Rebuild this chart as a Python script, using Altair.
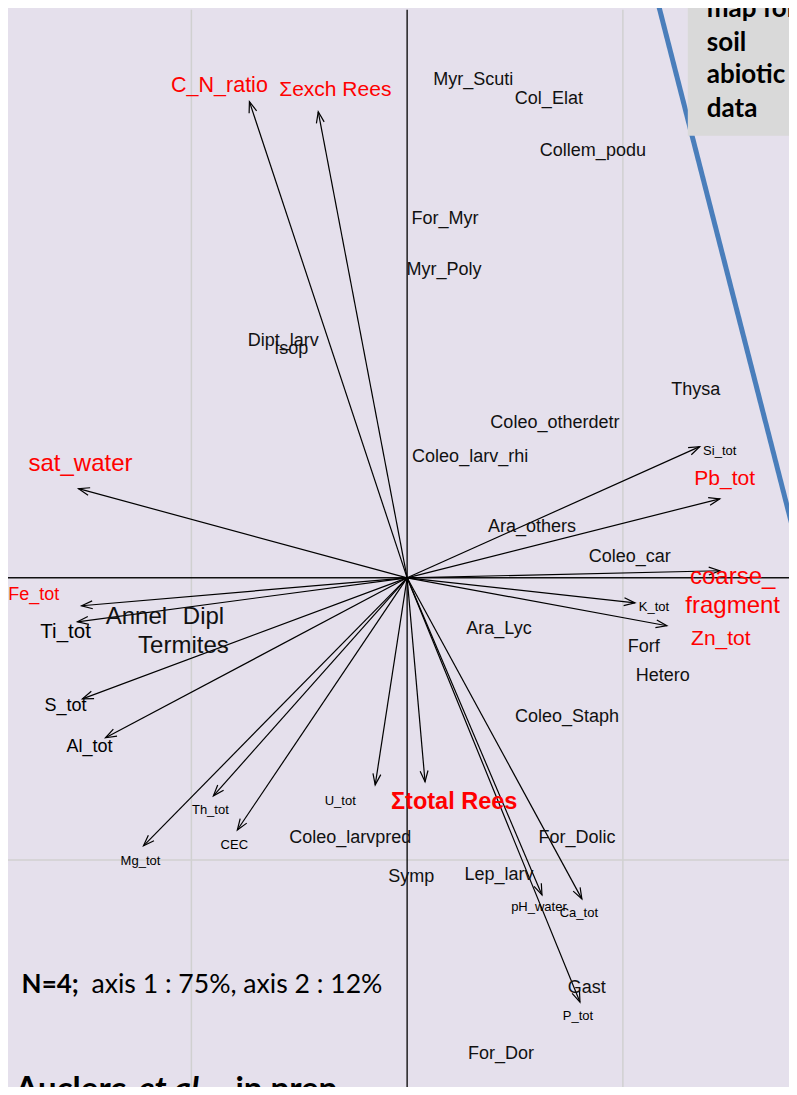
import math
import altair as alt
import pandas as pd

# ---------------- data (PCA coordinates) ----------------
var_names = ["C_N_ratio", "Σexch Rees", "sat_water", "Fe_tot", "Ti_tot", "S_tot", "Al_tot",
             "Mg_tot", "Th_tot", "CEC", "U_tot", "Σtotal Rees", "pH_water", "Ca_tot", "P_tot",
             "K_tot", "Zn_tot", "coarse_fragment", "Pb_tot", "Si_tot"]
var_x = [-0.731, -0.412, -1.523, -1.509, -1.528, -1.505, -1.398, -1.222, -0.898, -0.787,
         -0.148, 0.083, 0.625, 0.810, 0.801, 1.056, 1.204, 1.449, 1.449, 1.356]
var_y = [1.688, 1.652, 0.316, -0.099, -0.156, -0.429, -0.567, -0.950, -0.773, -0.894,
         -0.734, -0.723, -1.124, -1.138, -1.504, -0.089, -0.170, 0.025, 0.280, 0.465]
var_text = ["C_N_ratio", "Σexch Rees", "sat_water", "Fe_tot", "Ti_tot", "S_tot", "Al_tot",
            "Mg_tot", "Th_tot", "CEC", "U_tot", "Σtotal Rees", "pH_water", "Ca_tot", "P_tot",
            "K_tot", "Zn_tot", "coarse_\nfragment", "Pb_tot", "Si_tot"]
var_label_x = [-0.870, -0.333, -1.514, -1.731, -1.583, -1.583, -1.472, -1.236, -0.912, -0.801,
               -0.310, 0.218, 0.611, 0.796, 0.792, 1.144, 1.454, 1.509, 1.472, 1.449]
var_label_y = [1.745, 1.730, 0.404, -0.060, -0.191, -0.454, -0.599, -1.004, -0.823, -0.947,
               -0.791, -0.794, -1.167, -1.188, -1.553, -0.103, -0.216, 0.004, 0.351, 0.450]

sp_names = ["Myr_Scuti", "Col_Elat", "Collem_podu", "For_Myr", "Myr_Poly", "Dipt_larv", "Isop",
            "Thysa", "Coleo_otherdetr", "Coleo_larv_rhi", "Ara_others", "Coleo_car", "Ara_Lyc",
            "Forf", "Hetero", "Coleo_Staph", "For_Dolic", "Coleo_larvpred", "Symp", "Lep_larv",
            "Gast", "For_Dor", "Annel", "Dipl", "Termites"]
sp_x = [0.306, 0.657, 0.861, 0.176, 0.171, -0.574, -0.537, 1.338, 0.685, 0.292, 0.579, 1.032,
        0.426, 1.097, 1.185, 0.741, 0.787, -0.264, 0.019, 0.426, 0.833, 0.435, -1.255, -0.944, -1.037]
sp_y = [1.766, 1.699, 1.514, 1.273, 1.092, 0.840, 0.812, 0.667, 0.550, 0.429, 0.181, 0.074,
        -0.181, -0.245, -0.348, -0.493, -0.922, -0.922, -1.060, -1.053, -1.454, -1.688,
        -0.138, -0.138, -0.241]

grid_x = [-1.0, 1.0]
grid_y = [-1.0]

box_lines = ["map for", "soil", "abiotic", "data"]
box_line_y = [1.989, 1.869, 1.755, 1.635]

# ---------------- styles ----------------
W, H = 781, 1079
XDOM = [-1.85, 1.77]
YDOM = [-1.805, 2.02]
PXX = W / (XDOM[1] - XDOM[0])
PXY = H / (YDOM[1] - YDOM[0])
BG = "#E5E0EC"
RED = "#FF0000"

var_style = {  # name -> (color, font size)
    "C_N_ratio": (RED, 21.5), "Σexch Rees": (RED, 21), "sat_water": (RED, 24), "Fe_tot": (RED, 18),
    "Ti_tot": ("#000000", 20.5), "S_tot": ("#000000", 18), "Al_tot": ("#000000", 18),
    "Zn_tot": (RED, 21), "coarse_fragment": (RED, 24), "Pb_tot": (RED, 21),
    "Σtotal Rees": (RED, 23.5),
}
sp_big = {"Annel", "Dipl", "Termites"}

xs = alt.Scale(domain=XDOM, nice=False, zero=False)
ys = alt.Scale(domain=YDOM, nice=False, zero=False)


def X(f):
    return alt.X(f, type="quantitative", scale=xs, axis=None)


def Y(f):
    return alt.Y(f, type="quantitative", scale=ys, axis=None)


# ---------------- tables ----------------
vdf = pd.DataFrame({"name": var_names, "vx": var_x, "vy": var_y, "label": var_text,
                    "lx": var_label_x, "ly": var_label_y})
vdf["x0"] = 0.0
vdf["y0"] = 0.0
vdf["col"] = [var_style.get(n, ("#000000", 13))[0] for n in var_names]
vdf["fs"] = [var_style.get(n, ("#000000", 13))[1] for n in var_names]
vdf["ang"] = [(math.degrees(math.atan2(-y * PXY, x * PXX)) + 360) % 360 for x, y in zip(var_x, var_y)]
vdf["bold"] = vdf["name"] == "Σtotal Rees"

sdf = pd.DataFrame({"name": sp_names, "x": sp_x, "y": sp_y})
sdf["fs"] = [24 if n in sp_big else 18 for n in sp_names]

TOP = 2.014
rules = []
for gx in grid_x:
    rules.append({"x1": gx, "x2": gx, "y1": TOP, "y2": YDOM[0] - 0.1, "kind": "grid"})
for gy in grid_y:
    rules.append({"x1": XDOM[0] - 0.1, "x2": XDOM[1] + 0.1, "y1": gy, "y2": gy, "kind": "grid"})
rules.append({"x1": 0.0, "x2": 0.0, "y1": TOP, "y2": YDOM[0] - 0.1, "kind": "axis"})
rules.append({"x1": XDOM[0] - 0.1, "x2": XDOM[1] + 0.1, "y1": 0.0, "y2": 0.0, "kind": "axis"})
rdf = pd.DataFrame(rules)

line_df = pd.DataFrame({"x1": [1.153], "y1": [2.067], "x2": [1.819], "y2": [0.082]})
box_df = pd.DataFrame({"x1": [1.301], "x2": [1.9], "y1": [1.567], "y2": [2.1]})
box_txt = pd.DataFrame({"t": box_lines, "x": [1.389] * 4, "y": box_line_y})

# ---------------- layers ----------------
grid = alt.Chart(rdf).transform_filter("datum.kind == 'grid'").mark_rule(
    color="#D0D0D0", strokeWidth=1.5).encode(x=X("x1"), y=Y("y1"), x2="x2", y2="y2")
axes = alt.Chart(rdf).transform_filter("datum.kind == 'axis'").mark_rule(
    color="#111111", strokeWidth=1.4).encode(x=X("x1"), y=Y("y1"), x2="x2", y2="y2")

arrows = alt.Chart(vdf).mark_rule(color="black", strokeWidth=1.2).encode(
    x=X("x0"), y=Y("y0"), x2="vx", y2="vy")
heads = alt.Chart(vdf).mark_point(
    shape="M -1 -0.36 L 0 0 L -1 0.36", filled=False, color="black",
    strokeWidth=1.2, opacity=1, size=480).encode(
    x=X("vx"), y=Y("vy"), angle=alt.Angle("ang:Q", scale=None))

var_lab = alt.Chart(vdf).transform_filter("!datum.bold").mark_text(
    font="Liberation Sans", align="center", baseline="middle", lineBreak="\n", lineHeight=29).encode(
    x=X("lx"), y=Y("ly"), text="label:N",
    color=alt.Color("col:N", scale=None), size=alt.Size("fs:Q", scale=None))
var_lab_b = alt.Chart(vdf).transform_filter("datum.bold").mark_text(
    font="Liberation Sans", fontWeight="bold", align="center", baseline="middle").encode(
    x=X("lx"), y=Y("ly"), text="label:N",
    color=alt.Color("col:N", scale=None), size=alt.Size("fs:Q", scale=None))

sp_lab = alt.Chart(sdf).mark_text(
    font="Liberation Sans", align="center", baseline="middle", color="#111111").encode(
    x=X("x"), y=Y("y"), text="name:N", size=alt.Size("fs:Q", scale=None))

blue = alt.Chart(line_df).mark_rule(color="#4A7EBB", strokeWidth=5).encode(
    x=X("x1"), y=Y("y1"), x2="x2", y2="y2")
box = alt.Chart(box_df).mark_rect(color="#D9D9D9").encode(
    x=X("x1"), x2="x2", y=Y("y1"), y2="y2")
box_t = alt.Chart(box_txt).mark_text(
    font="Lato", fontWeight="bold", fontSize=26, align="left", baseline="alphabetic",
    color="black").encode(x=X("x"), y=Y("y"), text="t:N")

note_df = pd.DataFrame({
    "t": ["N=4;", "axis 1 : 75%, axis 2 : 12%"],
    "x": [-1.787, -1.463], "y": [-1.472, -1.472], "w": ["bold", "normal"]})
note_b = alt.Chart(note_df).transform_filter("datum.w == 'bold'").mark_text(
    font="Lato", fontWeight="bold", fontSize=26, align="left", baseline="alphabetic",
    color="black").encode(x=X("x"), y=Y("y"), text="t:N")
note_n = alt.Chart(note_df).transform_filter("datum.w == 'normal'").mark_text(
    font="Lato", fontSize=26.6, align="left", baseline="alphabetic",
    color="black").encode(x=X("x"), y=Y("y"), text="t:N")

cite_df = pd.DataFrame({"t": ["Auclerc", "et al.,", "in prep"],
                        "x": [-1.815, -1.245, -0.796], "y": [-1.851] * 3,
                        "it": [False, True, False]})
cite_n = alt.Chart(cite_df).transform_filter("!datum.it").mark_text(
    font="Lato", fontWeight="bold", fontSize=33, align="left", baseline="alphabetic",
    color="black").encode(x=X("x"), y=Y("y"), text="t:N")
cite_i = alt.Chart(cite_df).transform_filter("datum.it").mark_text(
    font="Lato", fontWeight="bold", fontStyle="italic", fontSize=33, align="left",
    baseline="alphabetic", color="black").encode(x=X("x"), y=Y("y"), text="t:N")

chart = alt.layer(
    grid, axes, arrows, heads, var_lab, var_lab_b, sp_lab, blue, box, box_t,
    note_b, note_n, cite_n, cite_i
).properties(
    width=W, height=H, padding=0, autosize="none", background=BG
).configure_view(stroke=None, fill=BG)

chart.save("out.html", embed_options={"renderer": "svg", "actions": False})
